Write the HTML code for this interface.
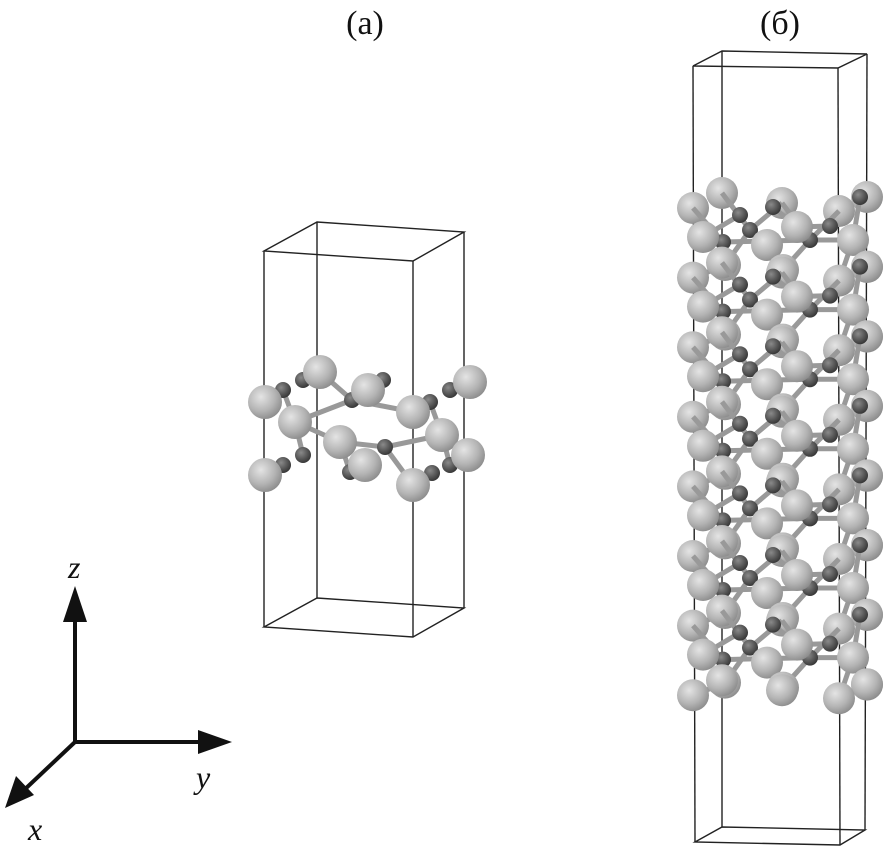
<!DOCTYPE html>
<html><head><meta charset="utf-8"><style>
html,body{margin:0;padding:0;background:#fff;}
svg{display:block;}
text{font-family:"Liberation Serif",serif;fill:#111;}
</style></head><body>
<svg width="887" height="852" viewBox="0 0 887 852" xmlns="http://www.w3.org/2000/svg" xmlns:xlink="http://www.w3.org/1999/xlink">
<defs>
<radialGradient id="gl" cx="0.38" cy="0.35" r="0.7">
<stop offset="0" stop-color="#e4e4e4"/><stop offset="0.6" stop-color="#b4b4b4"/><stop offset="1" stop-color="#8a8a8a"/>
</radialGradient>
<radialGradient id="gd" cx="0.38" cy="0.35" r="0.7">
<stop offset="0" stop-color="#8a8a8a"/><stop offset="0.6" stop-color="#555"/><stop offset="1" stop-color="#333"/>
</radialGradient>
<g id="mot">
<g stroke="#999" stroke-width="5">
<line x1="750" y1="230" x2="722" y2="193"/><line x1="750" y1="230" x2="782" y2="203"/><line x1="750" y1="230" x2="767" y2="245"/><line x1="750" y1="230" x2="725" y2="265"/>
<line x1="810" y1="240" x2="782" y2="203"/><line x1="810" y1="240" x2="839" y2="211"/><line x1="810" y1="240" x2="853" y2="240"/><line x1="810" y1="240" x2="783" y2="270"/>
<line x1="723" y1="242" x2="703" y2="237"/><line x1="723" y1="242" x2="693" y2="208"/><line x1="723" y1="242" x2="810" y2="240"/>
<line x1="773" y1="207" x2="797" y2="227"/><line x1="860" y1="197" x2="853" y2="240"/>
<line x1="740" y1="215" x2="703" y2="237"/><line x1="830" y1="226" x2="797" y2="227"/>
<line x1="725" y1="265" x2="693" y2="278"/><line x1="783" y1="270" x2="782" y2="273"/><line x1="853" y1="240" x2="839" y2="281"/>
</g>
<g fill="url(#gd)">
<circle cx="750" cy="230" r="8"/><circle cx="810" cy="240" r="8"/><circle cx="723" cy="242" r="8"/><circle cx="773" cy="207" r="8"/><circle cx="860" cy="197" r="8"/><circle cx="740" cy="215" r="8"/><circle cx="830" cy="226" r="8"/>
</g>
<g fill="url(#gl)">
<circle cx="797" cy="227" r="16"/><circle cx="703" cy="237" r="16"/><circle cx="767" cy="245" r="16"/><circle cx="853" cy="240" r="16"/><circle cx="725" cy="265" r="16"/><circle cx="783" cy="270" r="16"/><circle cx="867" cy="267" r="16"/>
</g>
</g>
<g id="toprow" fill="url(#gl)">
<circle cx="722" cy="193" r="16"/><circle cx="867" cy="197" r="16"/><circle cx="782" cy="203" r="16"/><circle cx="693" cy="208" r="16"/><circle cx="839" cy="211" r="16"/>
</g>
</defs>
<text x="365" y="34" font-size="34" text-anchor="middle">(а)</text>
<text x="780" y="34" font-size="34" text-anchor="middle">(б)</text>
<g fill="none" stroke="#222" stroke-width="1.4">
<polygon points="264,251 317,222 464,232 413,261"/>
<polygon points="264,627 317,598 464,608 413,637"/>
<line x1="264" y1="251" x2="264" y2="627"/><line x1="317" y1="222" x2="317" y2="598"/>
<line x1="464" y1="232" x2="464" y2="608"/><line x1="413" y1="261" x2="413" y2="637"/>
<polygon points="693,66 722,51 867,54 838,68"/>
<polygon points="695,842 722,827 865,830 840,845"/>
<line x1="693" y1="66" x2="695" y2="842"/><line x1="722" y1="51" x2="722" y2="827"/>
<line x1="867" y1="54" x2="865" y2="830"/><line x1="838" y1="68" x2="840" y2="845"/>
</g>
<!-- structure a -->
<g stroke="#999" stroke-width="5">
<line x1="283" y1="390" x2="295" y2="422"/><line x1="303" y1="380" x2="320" y2="372"/><line x1="295" y1="422" x2="340" y2="442"/>
<line x1="340" y1="442" x2="385" y2="447"/><line x1="385" y1="447" x2="442" y2="435"/><line x1="352" y1="400" x2="413" y2="412"/>
<line x1="303" y1="455" x2="295" y2="422"/><line x1="283" y1="465" x2="265" y2="475"/><line x1="432" y1="473" x2="413" y2="485"/>
<line x1="430" y1="402" x2="442" y2="435"/><line x1="450" y1="390" x2="470" y2="382"/><line x1="385" y1="447" x2="413" y2="485"/>
<line x1="383" y1="380" x2="352" y2="400"/><line x1="320" y1="372" x2="352" y2="400"/><line x1="295" y1="422" x2="352" y2="400"/>
<line x1="450" y1="465" x2="442" y2="435"/><line x1="350" y1="472" x2="340" y2="442"/>
</g>
<g fill="url(#gd)">
<circle cx="283" cy="390" r="8"/><circle cx="303" cy="380" r="8"/><circle cx="383" cy="380" r="8"/><circle cx="352" cy="400" r="8"/>
<circle cx="430" cy="402" r="8"/><circle cx="450" cy="390" r="8"/><circle cx="303" cy="455" r="8"/><circle cx="350" cy="472" r="8"/>
<circle cx="385" cy="447" r="8"/><circle cx="283" cy="465" r="8"/><circle cx="432" cy="473" r="8"/><circle cx="450" cy="465" r="8"/>
</g>
<g fill="url(#gl)">
<circle cx="320" cy="372" r="17"/><circle cx="470" cy="382" r="17"/><circle cx="368" cy="390" r="17"/><circle cx="265" cy="402" r="17"/>
<circle cx="413" cy="412" r="17"/><circle cx="295" cy="422" r="17"/><circle cx="442" cy="435" r="17"/><circle cx="340" cy="442" r="17"/>
<circle cx="468" cy="455" r="17"/><circle cx="365" cy="465" r="17"/><circle cx="265" cy="475" r="17"/><circle cx="413" cy="485" r="17"/>
</g>
<!-- structure b -->
<use xlink:href="#toprow"/>
<use xlink:href="#mot" transform="translate(0,0)"/>
<use xlink:href="#toprow" transform="translate(0,69.6)"/>
<use xlink:href="#mot" transform="translate(0,69.6)"/>
<use xlink:href="#toprow" transform="translate(0,139.2)"/>
<use xlink:href="#mot" transform="translate(0,139.2)"/>
<use xlink:href="#toprow" transform="translate(0,208.8)"/>
<use xlink:href="#mot" transform="translate(0,208.8)"/>
<use xlink:href="#toprow" transform="translate(0,278.4)"/>
<use xlink:href="#mot" transform="translate(0,278.4)"/>
<use xlink:href="#toprow" transform="translate(0,348)"/>
<use xlink:href="#mot" transform="translate(0,348)"/>
<use xlink:href="#toprow" transform="translate(0,417.6)"/>
<use xlink:href="#mot" transform="translate(0,417.6)"/>
<use xlink:href="#toprow" transform="translate(0,487.2)"/>
<!-- axes -->
<g stroke="#111" stroke-width="4">
<line x1="75" y1="742" x2="75" y2="610"/>
<line x1="75" y1="742" x2="205" y2="742"/>
<line x1="75" y1="742" x2="22" y2="792"/>
</g>
<polygon points="75,586 63,622 87,622" fill="#111"/>
<polygon points="232,742 198,730 198,754" fill="#111"/>
<polygon points="5,808 16,776 34,795" fill="#111"/>
<text x="68" y="578" font-size="32" font-style="italic">z</text>
<text x="196" y="788" font-size="32" font-style="italic">y</text>
<text x="28" y="840" font-size="32" font-style="italic">x</text>
</svg>
</body></html>
